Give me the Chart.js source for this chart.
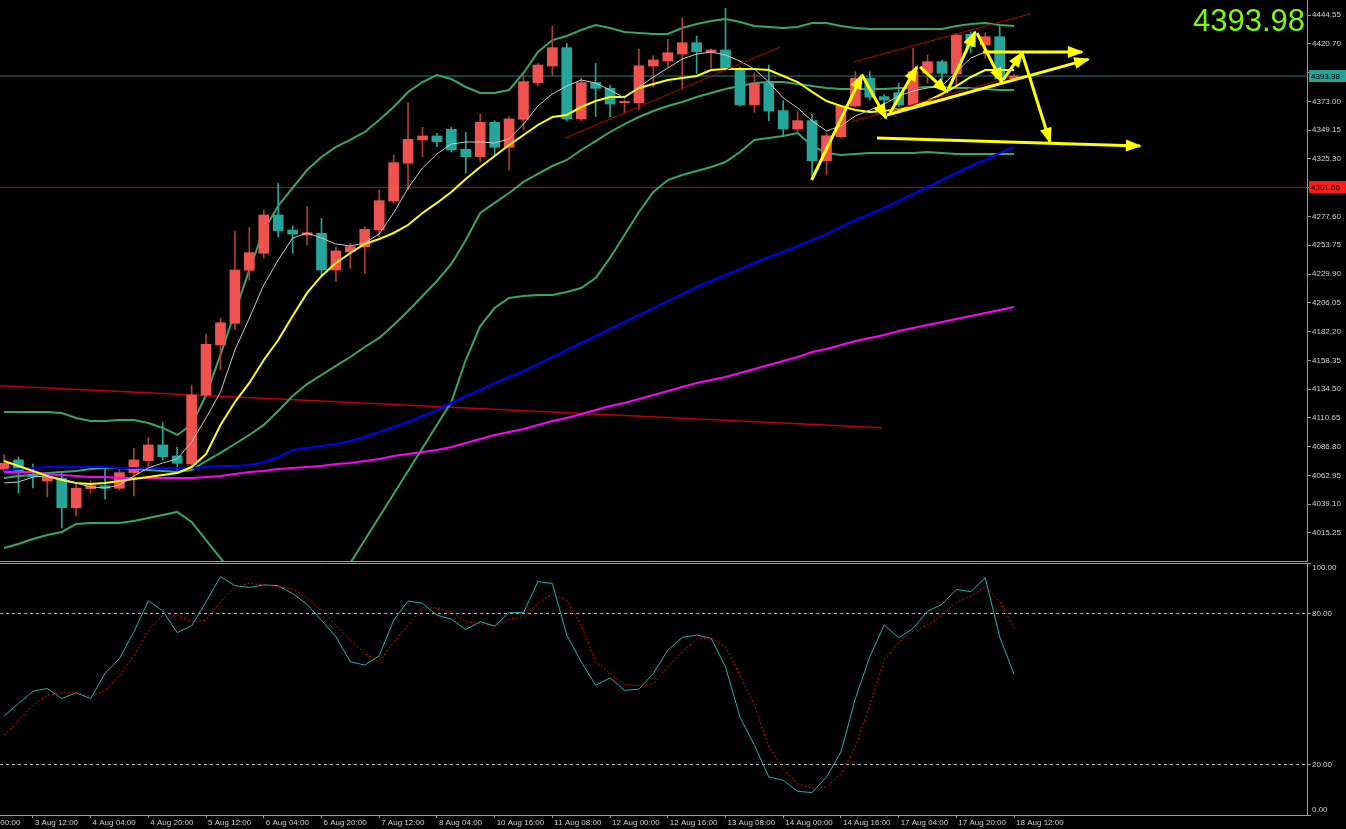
<!DOCTYPE html>
<html>
<head>
<meta charset="utf-8">
<script src="https://cdn.jsdelivr.net/npm/chart.js@4.4.0/dist/chart.umd.min.js"></script>
<style>
  html, body { margin: 0; padding: 0; background: #000; overflow: hidden; }
  #wrap { position: relative; width: 1346px; height: 829px; }
  canvas { position: absolute; left: 0; }
  #main { top: 0; }
  #osc { top: 562px; }
</style>
</head>
<body>
<div id="wrap">
  <canvas id="main" width="1346" height="562"></canvas>
  <canvas id="osc" width="1346" height="267"></canvas>
</div>
<script>
// H4 bars, index 0 = 3 Aug 04:00 ... index 70 = 18 Aug 12:00
var opens = [4068.0, 4075.8, 4064.0, 4058.3, 4060.6, 4036.2, 4052.0, 4054.4, 4052.3, 4065.3,
  4075.2, 4088.2, 4079.1, 4072.4, 4129.6, 4171.1, 4189.0, 4233.0, 4247.1, 4278.8,
  4266.4, 4262.2, 4263.6, 4233.2, 4248.4, 4252.5, 4266.4, 4290.4, 4321.7, 4341.0,
  4344.3, 4349.8, 4333.3, 4327.1, 4355.6, 4334.9, 4358.1, 4388.5, 4402.3, 4417.5,
  4358.4, 4388.5, 4383.8, 4371.9, 4371.9, 4402.3, 4406.4, 4412.2, 4421.6, 4413.7,
  4415.6, 4400.4, 4370.0, 4388.5, 4365.3, 4350.1, 4357.0, 4323.8, 4343.7, 4369.1,
  4392.1, 4376.9, 4380.2, 4370.0, 4396.2, 4405.9, 4395.7, 4428.6, 4419.7, 4426.6,
  4391.8];
var highs = [4080.0, 4078.2, 4072.4, 4063.3, 4065.0, 4056.7, 4058.6, 4070.2, 4069.0, 4085.4,
  4094.6, 4106.7, 4086.3, 4137.9, 4180.2, 4193.4, 4265.5, 4268.6, 4283.0, 4305.0,
  4269.7, 4285.7, 4276.0, 4252.5, 4255.3, 4269.1, 4299.5, 4328.5, 4371.9, 4351.5,
  4346.5, 4351.7, 4347.3, 4362.5, 4357.0, 4360.3, 4394.8, 4404.5, 4435.5, 4421.1,
  4392.1, 4404.5, 4386.5, 4374.1, 4416.4, 4410.8, 4424.4, 4441.8, 4427.2, 4416.5,
  4450.1, 4401.5, 4396.7, 4403.1, 4373.5, 4364.4, 4362.3, 4346.5, 4370.0, 4397.6,
  4397.6, 4378.6, 4388.0, 4417.0, 4411.4, 4407.3, 4429.4, 4430.7, 4429.4, 4435.5,
  4395.5];
var lows = [4066.0, 4048.4, 4052.5, 4045.1, 4019.4, 4029.6, 4048.6, 4043.2, 4050.9, 4045.9,
  4070.2, 4075.8, 4067.5, 4070.8, 4128.0, 4150.3, 4183.5, 4224.9, 4243.2, 4260.8,
  4247.1, 4253.9, 4229.0, 4223.5, 4234.6, 4230.5, 4260.8, 4288.5, 4299.5, 4327.1,
  4335.4, 4331.0, 4313.4, 4323.0, 4328.5, 4316.1, 4349.3, 4385.7, 4394.0, 4357.0,
  4357.0, 4360.3, 4360.3, 4363.1, 4366.4, 4384.6, 4401.7, 4383.0, 4396.2, 4400.4,
  4399.0, 4369.1, 4363.9, 4357.0, 4343.7, 4347.8, 4311.4, 4312.0, 4342.6, 4368.6,
  4374.1, 4364.2, 4368.6, 4368.6, 4388.0, 4390.7, 4383.8, 4413.0, 4408.7, 4389.0,
  4389.5];
var closes = [4073.0, 4065.3, 4062.0, 4061.7, 4036.2, 4052.3, 4054.4, 4052.3, 4065.3, 4075.8,
  4088.2, 4078.5, 4073.0, 4129.6, 4171.6, 4189.5, 4233.2, 4247.6, 4278.8, 4265.8,
  4263.0, 4264.1, 4233.2, 4249.0, 4252.5, 4266.9, 4290.7, 4322.2, 4341.5, 4344.3,
  4339.6, 4332.7, 4327.1, 4355.6, 4334.9, 4358.4, 4389.3, 4403.1, 4417.5, 4358.4,
  4388.5, 4383.8, 4370.8, 4372.9, 4402.5, 4407.3, 4413.3, 4421.6, 4414.2, 4415.6,
  4400.4, 4370.0, 4388.0, 4365.0, 4350.1, 4357.0, 4323.8, 4344.5, 4369.1, 4392.1,
  4376.4, 4374.1, 4370.0, 4397.6, 4405.9, 4396.2, 4428.0, 4418.3, 4426.6, 4391.5,
  4393.98];

// moving averages
var maFast = [4056.7, 4057.5, 4061.7, 4062.5, 4060.0, 4056.7, 4053.4, 4052.5, 4055.0, 4062.5,
  4069.1, 4073.3, 4076.6, 4090.7, 4110.6, 4132.1, 4166.9, 4193.4, 4220.8, 4241.5,
  4259.7, 4263.9, 4259.7, 4254.8, 4253.1, 4255.6, 4263.1, 4280.5, 4301.2, 4317.8,
  4329.4, 4337.7, 4339.3, 4339.3, 4338.5, 4341.8, 4354.2, 4369.1, 4379.1, 4385.7,
  4390.7, 4388.2, 4382.4, 4375.8, 4384.9, 4393.2, 4400.6, 4408.1, 4412.2, 4413.9,
  4411.4, 4406.4, 4399.8, 4389.0, 4375.8, 4367.5, 4356.7, 4348.4, 4352.6, 4360.9,
  4365.8, 4370.8, 4377.4, 4381.6, 4384.1, 4385.7, 4397.3, 4408.9, 4413.9, 4413.9,
  4413.1];
var maSlow = [4074.9, 4070.8, 4066.6, 4062.5, 4059.2, 4056.7, 4055.9, 4056.7, 4058.3, 4060.0,
  4061.7, 4063.3, 4065.0, 4069.9, 4080.7, 4104.8, 4123.8, 4139.6, 4158.6, 4175.2,
  4195.1, 4214.2, 4228.3, 4239.0, 4247.3, 4254.8, 4258.9, 4263.9, 4270.5, 4280.5,
  4288.8, 4297.9, 4308.6, 4318.6, 4327.7, 4336.8, 4345.1, 4353.4, 4360.0, 4361.7,
  4368.3, 4373.3, 4376.6, 4376.6, 4384.1, 4387.4, 4390.7, 4392.4, 4394.0, 4399.0,
  4399.8, 4399.8, 4399.8, 4399.0, 4394.0, 4389.0, 4380.8, 4373.3, 4369.1, 4365.8,
  4364.2, 4365.0, 4366.7, 4368.3, 4373.3, 4379.1, 4385.7, 4393.2, 4399.0, 4399.0,
  4399.0];
var ma50 = [4067.5, 4068.3, 4069.1, 4069.9, 4069.9, 4069.9, 4069.9, 4069.9, 4069.1, 4069.1,
  4069.1, 4069.1, 4069.1, 4069.1, 4069.9, 4070.8, 4070.8, 4071.6, 4074.1, 4078.2,
  4084.0, 4085.7, 4087.4, 4089.0, 4091.5, 4094.8, 4098.9, 4103.1, 4107.2, 4112.2,
  4117.2, 4123.0, 4128.8, 4133.8, 4139.6, 4144.5, 4149.5, 4155.3, 4161.1, 4166.9,
  4172.7, 4178.5, 4184.3, 4190.1, 4195.9, 4201.7, 4207.5, 4213.3, 4219.1, 4224.1,
  4229.1, 4234.1, 4239.0, 4244.0, 4248.1, 4253.1, 4258.1, 4263.1, 4268.9, 4274.7,
  4279.6, 4284.6, 4290.4, 4296.2, 4302.0, 4307.8, 4313.6, 4319.4, 4324.4, 4330.2,
  4335.2];
var ma100 = [4065.8, 4065.8, 4065.8, 4064.1, 4063.3, 4062.5, 4061.7, 4061.7, 4060.8, 4060.8,
  4060.8, 4060.8, 4060.8, 4060.8, 4061.7, 4062.5, 4064.1, 4065.8, 4066.6, 4068.3,
  4069.1, 4069.9, 4070.8, 4072.4, 4073.3, 4074.9, 4076.6, 4079.1, 4080.7, 4082.4,
  4084.0, 4086.5, 4089.8, 4093.2, 4096.5, 4099.0, 4101.4, 4104.8, 4108.1, 4110.6,
  4113.9, 4117.2, 4120.5, 4123.0, 4126.3, 4129.6, 4132.9, 4136.3, 4139.6, 4142.1,
  4144.5, 4147.9, 4151.2, 4154.5, 4157.8, 4161.1, 4165.3, 4167.7, 4171.1, 4174.4,
  4176.9, 4179.4, 4182.7, 4185.2, 4187.6, 4190.1, 4192.6, 4195.1, 4197.6, 4200.1,
  4202.6];

// bollinger bands
var bbUpper = [4115.5, 4115.5, 4115.5, 4115.5, 4114.7, 4110.6, 4108.1, 4108.1, 4108.9, 4108.9,
  4106.4, 4102.3, 4096.5, 4104.8, 4129.6, 4162.8, 4198.4, 4233.2, 4266.4, 4286.3,
  4301.2, 4316.1, 4326.9, 4335.2, 4341.0, 4347.6, 4357.5, 4368.3, 4380.8, 4389.0,
  4394.8, 4391.5, 4384.9, 4379.9, 4379.9, 4382.4, 4396.5, 4413.9, 4423.8, 4427.2,
  4432.1, 4436.3, 4433.8, 4430.5, 4429.6, 4428.8, 4428.8, 4433.8, 4437.1, 4439.6,
  4441.3, 4438.8, 4435.5, 4434.6, 4433.8, 4434.6, 4437.9, 4437.9, 4435.5, 4433.8,
  4433.0, 4433.0, 4433.0, 4433.0, 4433.0, 4433.0, 4435.5, 4437.1, 4437.9, 4436.3,
  4435.5];
var bbMiddle = [4060.8, 4062.5, 4063.3, 4065.0, 4065.8, 4066.6, 4068.3, 4069.1, 4069.1, 4068.3,
  4067.5, 4066.6, 4065.8, 4067.5, 4074.9, 4081.6, 4089.0, 4096.5, 4104.8, 4116.4,
  4128.8, 4138.7, 4146.2, 4153.7, 4161.1, 4169.4, 4176.9, 4187.6, 4199.2, 4211.7,
  4224.1, 4238.2, 4258.1, 4280.5, 4288.8, 4297.0, 4306.2, 4312.8, 4319.4, 4324.4,
  4332.7, 4340.1, 4347.6, 4354.2, 4360.0, 4365.0, 4369.1, 4372.5, 4376.6, 4379.9,
  4383.2, 4385.7, 4388.2, 4389.0, 4389.0, 4387.4, 4385.7, 4384.1, 4383.2, 4383.2,
  4383.2, 4383.2, 4384.1, 4384.1, 4384.9, 4384.9, 4384.1, 4384.1, 4383.2, 4382.4,
  4382.4];
var bbLower = [4002.8, 4006.1, 4010.3, 4013.6, 4016.1, 4022.7, 4023.5, 4023.5, 4023.5, 4025.2,
  4027.7, 4030.2, 4032.7, 4024.4, 4009.4, 3994.5, 3979.6, 3959.7, 3943.1, 3946.5,
  3956.4, 3961.4, 3965.5, 3976.3, 3990.4, 4009.4, 4028.5, 4047.6, 4066.6, 4085.7,
  4104.8, 4123.8, 4158.6, 4186.8, 4201.7, 4210.0, 4211.7, 4212.5, 4212.5, 4215.0,
  4218.3, 4226.6, 4243.2, 4262.2, 4281.3, 4297.9, 4307.8, 4312.0, 4315.3, 4318.6,
  4322.7, 4331.0, 4341.0, 4342.6, 4344.3, 4346.8, 4336.0, 4330.2, 4328.5, 4329.4,
  4330.2, 4330.2, 4330.2, 4330.2, 4331.0, 4330.2, 4329.4, 4329.4, 4329.4, 4329.4,
  4329.4];

// stochastic
var stochK = [39.3, 44.2, 49.1, 50.2, 46.2, 48.5, 46.2, 56.2, 62.1, 72.7,
  85.0, 81.0, 72.4, 75.1, 84.6, 94.6, 91.0, 90.3, 91.3, 91.0,
  87.9, 83.6, 77.3, 70.7, 60.8, 59.5, 63.2, 77.3, 84.9, 84.0,
  79.3, 77.7, 73.6, 76.7, 75.0, 80.3, 80.3, 92.6, 91.9, 71.4,
  60.8, 51.5, 54.4, 49.5, 49.9, 56.2, 65.4, 70.5, 71.4, 70.1,
  58.8, 38.9, 27.7, 15.1, 13.8, 9.4, 8.9, 15.1, 25.0, 46.2,
  62.8, 75.4, 70.3, 74.0, 80.9, 83.6, 89.5, 88.6, 94.2, 70.7,
  55.8];
var stochD = [31.6, 37.6, 43.6, 47.5, 48.5, 48.5, 47.1, 49.5, 55.5, 63.4,
  73.4, 79.3, 79.3, 76.7, 77.3, 84.6, 90.6, 91.9, 91.3, 90.6,
  89.7, 86.0, 81.3, 75.4, 69.4, 64.1, 60.8, 68.7, 75.4, 82.2,
  82.2, 80.6, 76.7, 76.0, 74.7, 77.7, 78.6, 84.0, 87.9, 85.3,
  75.4, 60.8, 56.2, 51.8, 51.3, 52.2, 58.8, 64.8, 69.8, 70.3,
  66.8, 55.5, 43.6, 27.0, 18.4, 12.4, 10.7, 11.1, 16.4, 27.0,
  43.6, 61.4, 68.7, 73.0, 75.4, 79.3, 84.4, 87.0, 90.6, 84.9,
  74.0];
var stochLevels = [0, 20, 80, 100];

// axes
var priceTicks = [4015.25, 4039.10, 4062.95, 4086.80, 4110.65, 4134.50, 4158.35, 4182.20, 4206.05,
  4229.90, 4253.75, 4277.60, 4301.45, 4325.30, 4349.15, 4373.00, 4396.85, 4420.70, 4444.55];
var timeTicks = [-2, 2, 6, 10, 14, 18, 22, 26, 30, 34, 38, 42, 46, 50, 54, 58, 62, 66, 70];
var timeLabels = ['3 Aug 00:00', '3 Aug 12:00', '4 Aug 04:00', '4 Aug 20:00', '5 Aug 12:00',
  '6 Aug 04:00', '6 Aug 20:00', '7 Aug 12:00', '8 Aug 04:00', '10 Aug 16:00', '11 Aug 08:00',
  '12 Aug 00:00', '12 Aug 16:00', '13 Aug 08:00', '14 Aug 00:00', '14 Aug 16:00',
  '17 Aug 04:00', '17 Aug 20:00', '18 Aug 12:00'];

// levels and drawings (bar index, price)
var lastPrice = 4393.98;
var supportLevel = 4301.66;
var longLine = [-0.3, 4137.3, 60.85, 4102.4];
var trendLines = [
  [38.88, 4342.6, 53.78, 4418.0],
  [58.84, 4405.6, 71.1, 4445.4],
  [58.74, 4356.1, 69.72, 4392.9]
];
var arrows = [
  [55.97, 4307.8, 59.46, 4394.8],
  [59.46, 4394.8, 61.12, 4359.2],
  [61.4, 4363.3, 63.27, 4401.5],
  [63.48, 4401.5, 65.35, 4380.8],
  [65.42, 4382.4, 67.29, 4430.5],
  [67.43, 4429.6, 69.16, 4389.0],
  [69.23, 4390.7, 70.55, 4413.1],
  [70.55, 4413.1, 72.49, 4339.3],
  [67.85, 4413.9, 74.7, 4413.9],
  [61.17, 4361.7, 75.14, 4407.8],
  [60.5, 4342.6, 78.72, 4336.0]
];

var xMin = -0.28, xMax = 90.3;
var upColor = '#ef5350', downColor = '#26a69a';
var axisColor = '#9a9a9a', textColor = '#d0d0d0';
var tickFont = { family: 'Liberation Sans', size: 8 };

function series(arr) {
  return arr.map(function (v, i) { return { x: i, y: v }; });
}
function segment(s) {
  return [{ x: s[0], y: s[1] }, { x: s[2], y: s[3] }];
}
function lineSet(data, color, width, order) {
  return { type: 'line', data: data, borderColor: color, borderWidth: width, pointRadius: 0, tension: 0, order: order };
}

var isUp = closes.map(function (c, i) { return c >= opens[i]; });

var datasets = [
  lineSet([{ x: xMin - 1, y: lastPrice }, { x: xMax + 1, y: lastPrice }], '#2c7d76', 1, 12),
  lineSet([{ x: xMin - 1, y: supportLevel }, { x: xMax + 1, y: supportLevel }], '#e00000', 1, 12),
  lineSet(segment(longLine), '#c00000', 1.5, 11),
  lineSet(series(bbUpper), '#33a86a', 2, 10),
  lineSet(series(bbMiddle), '#33a86a', 2, 10),
  lineSet(series(bbLower), '#33a86a', 2, 10),
  {
    type: 'bar', data: lows.map(function (l, i) { return { x: i, y: [l, highs[i]] }; }),
    backgroundColor: isUp.map(function (u) { return u ? '#b03a3a' : downColor; }),
    barThickness: 1, grouped: false, order: 9
  },
  {
    type: 'bar', data: opens.map(function (o, i) { return { x: i, y: [o, closes[i]] }; }),
    backgroundColor: isUp.map(function (u) { return u ? upColor : downColor; }),
    barThickness: 10, grouped: false, minBarLength: 1, order: 8
  },
  lineSet(series(ma100), '#ff00ff', 2, 6),
  lineSet(series(ma50), '#0000ff', 2, 6),
  lineSet(series(maSlow), '#ffff00', 2, 5),
  lineSet(series(maFast), '#c8c8c8', 1, 4)
];
trendLines.forEach(function (t) { datasets.push(lineSet(segment(t), '#b40000', 1, 3)); });
arrows.forEach(function (a) {
  var ds = lineSet(segment(a), '#ffff00', 3, 1);
  ds.arrow = true;
  datasets.push(ds);
});

// arrow heads at the end of each drawn arrow
var arrowHeads = {
  id: 'arrowHeads',
  afterDatasetsDraw: function (chart) {
    var ctx = chart.ctx, area = chart.chartArea;
    ctx.save();
    ctx.beginPath();
    ctx.rect(area.left, area.top, area.right - area.left, area.bottom - area.top);
    ctx.clip();
    chart.data.datasets.forEach(function (ds, k) {
      if (!ds.arrow) return;
      var pts = chart.getDatasetMeta(k).data;
      var a = pts[0], b = pts[pts.length - 1];
      var ang = Math.atan2(b.y - a.y, b.x - a.x);
      var c = Math.cos(ang), s = Math.sin(ang);
      ctx.fillStyle = ds.borderColor;
      ctx.beginPath();
      ctx.moveTo(b.x + 2 * c, b.y + 2 * s);
      ctx.lineTo(b.x - 14 * c + 6 * s, b.y - 14 * s - 6 * c);
      ctx.lineTo(b.x - 14 * c - 6 * s, b.y - 14 * s + 6 * c);
      ctx.closePath();
      ctx.fill();
    });
    ctx.restore();
  }
};

// panel edge, price tags and big last price
var mainDecor = {
  id: 'mainDecor',
  afterDraw: function (chart) {
    var ctx = chart.ctx, area = chart.chartArea, y = chart.scales.y;
    ctx.save();
    ctx.strokeStyle = axisColor;
    ctx.lineWidth = 1;
    ctx.beginPath();
    ctx.moveTo(area.left, area.bottom - 0.5);
    ctx.lineTo(area.right, area.bottom - 0.5);
    ctx.stroke();
    [[lastPrice, '#2aa198'], [supportLevel, '#ff1a1a']].forEach(function (t) {
      var py = Math.round(y.getPixelForValue(t[0]));
      ctx.fillStyle = t[1];
      ctx.fillRect(area.right + 2, py - 6, 37, 12);
      ctx.fillStyle = '#000';
      ctx.font = '8px "Liberation Sans"';
      ctx.textBaseline = 'middle';
      ctx.textAlign = 'left';
      ctx.fillText(t[0].toFixed(2), area.right + 4, py + 0.5);
    });
    ctx.fillStyle = '#7cfc00';
    ctx.font = '31px "Liberation Sans"';
    ctx.textAlign = 'right';
    ctx.textBaseline = 'alphabetic';
    ctx.fillText(closes[closes.length - 1].toFixed(2), area.right - 2, 31);
    ctx.restore();
  }
};

var oscDecor = {
  id: 'oscDecor',
  afterDraw: function (chart) {
    var ctx = chart.ctx, area = chart.chartArea;
    ctx.save();
    ctx.strokeStyle = axisColor;
    ctx.lineWidth = 1;
    ctx.beginPath();
    ctx.moveTo(area.left, area.top + 0.5);
    ctx.lineTo(area.right, area.top + 0.5);
    ctx.stroke();
    ctx.restore();
  }
};

new Chart(document.getElementById('main'), {
  type: 'bar',
  data: { datasets: datasets },
  options: {
    responsive: false,
    animation: false,
    events: [],
    layout: { padding: 0 },
    plugins: { legend: { display: false }, tooltip: { enabled: false } },
    scales: {
      x: { type: 'linear', min: xMin, max: xMax, display: false, offset: false },
      y: {
        position: 'right', min: 3991.2, max: 4457.0,
        afterBuildTicks: function (s) { s.ticks = priceTicks.map(function (v) { return { value: v }; }); },
        afterFit: function (s) { s.width = 39; s.paddingTop = 0; s.paddingBottom = 0; },
        ticks: {
          color: textColor, font: tickFont, padding: 1, autoSkip: false,
          callback: function (v) { return v.toFixed(2); }
        },
        grid: { drawOnChartArea: false, color: axisColor, tickLength: 4 },
        border: { color: axisColor }
      }
    }
  },
  plugins: [arrowHeads, mainDecor]
});

new Chart(document.getElementById('osc'), {
  type: 'line',
  data: {
    datasets: [
      { data: series(stochD), borderColor: '#e00000', borderWidth: 1, borderDash: [2, 2], pointRadius: 0, tension: 0 },
      { data: series(stochK), borderColor: '#20b2aa', borderWidth: 1, pointRadius: 0, tension: 0 }
    ]
  },
  options: {
    responsive: false,
    animation: false,
    events: [],
    layout: { padding: { top: 1 } },
    plugins: { legend: { display: false }, tooltip: { enabled: false } },
    scales: {
      x: {
        type: 'linear', min: xMin, max: xMax,
        afterBuildTicks: function (s) { s.ticks = timeTicks.map(function (v) { return { value: v }; }); },
        afterFit: function (s) { s.height = 14; s.paddingLeft = 0; s.paddingRight = 0; },
        ticks: {
          color: textColor, font: tickFont, align: 'start', labelOffset: 2, padding: 0,
          maxRotation: 0, autoSkip: false,
          callback: function (v, i) { return timeLabels[i]; }
        },
        grid: { drawOnChartArea: false, color: axisColor, tickLength: 3 },
        border: { color: axisColor }
      },
      y: {
        position: 'right', min: 0, max: 100,
        afterBuildTicks: function (s) { s.ticks = stochLevels.map(function (v) { return { value: v }; }); },
        afterFit: function (s) { s.width = 39; s.paddingTop = 0; s.paddingBottom = 0; },
        ticks: {
          color: textColor, font: tickFont, padding: 1, autoSkip: false,
          callback: function (v) {
            if (v === 100) return ['', '100.00'];
            if (v === 0) return ['0.00', ''];
            return v.toFixed(2);
          }
        },
        grid: {
          tickLength: 4,
          tickColor: axisColor,
          color: function (c) { return (c.tick && (c.tick.value === 20 || c.tick.value === 80)) ? '#b8b8b8' : 'rgba(0,0,0,0)'; }
        },
        border: { color: axisColor, dash: [3, 3] }
      }
    }
  },
  plugins: [oscDecor]
});
</script>
</body>
</html>
